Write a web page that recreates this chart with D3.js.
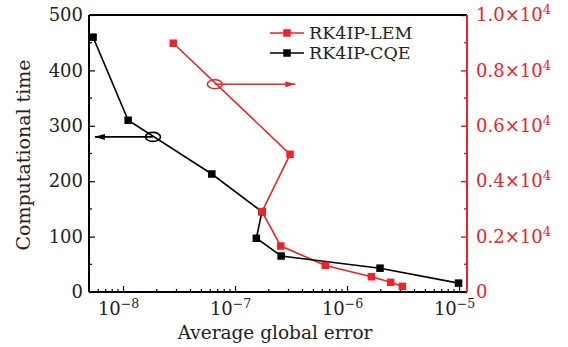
<!DOCTYPE html>
<html>
<head>
<meta charset="utf-8">
<script src="https://cdn.jsdelivr.net/npm/d3@7"></script>
<style>
  body { margin: 0; background: #fff; }
  svg text { font-family: "DejaVu Serif", "Liberation Serif", serif; }
</style>
</head>
<body>
<div id="chart"></div>
<script>
// data
const cqeError = [5.4e-9, 1.11e-8, 6.2e-8, 1.74e-7, 1.55e-7, 2.58e-7, 1.97e-6, 9.9e-6];
const cqeTime = [460, 310, 213, 145, 97, 65, 43, 16];
const lemError = [2.81e-8, 3.1e-7, 1.74e-7, 2.56e-7, 6.4e-7, 1.65e-6, 2.45e-6, 3.12e-6];
const lemTime = [8980, 4970, 2900, 1660, 960, 550, 350, 200];

const xTicks = [1e-8, 1e-7, 1e-6, 1e-5];
const xTickExp = ["−8", "−7", "−6", "−5"];
const leftTicks = [0, 100, 200, 300, 400, 500];
const rightTicks = [0, 2000, 4000, 6000, 8000, 10000];
const rightTickLabels = ["0", "0.2", "0.4", "0.6", "0.8", "1.0"];
const seriesNames = ["RK4IP-LEM", "RK4IP-CQE"];

const red = "#ee2229";

const W = 568, H = 347;
const margin = {top: 15, right: 101, bottom: 55, left: 89};
const width = W - margin.left - margin.right;
const height = H - margin.top - margin.bottom;

const svg = d3.select("#chart").append("svg")
    .attr("width", W)
    .attr("height", H);

const g = svg.append("g")
    .attr("transform", `translate(${margin.left},${margin.top})`);

const x = d3.scaleLog().domain([Math.pow(10, -8.304), Math.pow(10, -4.929)]).range([0, width]);
const yL = d3.scaleLinear().domain([0, 500]).range([height, 0]);
const yR = d3.scaleLinear().domain([0, 10000]).range([height, 0]);

// minor ticks on the log axis
const minorX = [];
[-9, -8, -7, -6, -5].forEach(e => {
    for (let k = 2; k <= 9; k++) {
        const v = k * Math.pow(10, e);
        if (v > x.domain()[0] && v < x.domain()[1]) minorX.push(v);
    }
});

// bottom axis
const xAxisG = g.append("g").attr("transform", `translate(0,${height})`);
xAxisG.call(d3.axisBottom(x).tickValues(xTicks).tickSizeInner(-6).tickSizeOuter(0).tickPadding(8))
xAxisG.select(".domain").remove();
xAxisG.selectAll("line").attr("stroke", "#000").attr("stroke-width", 1.2);
xAxisG.selectAll("text")
    .attr("fill", "#222")
    .attr("x", -5)
    .style("font-size", "18px")
    .each(function(d, i) {
        const t = d3.select(this);
        t.text(null);
        t.append("tspan").text("10");
        t.append("tspan").attr("dy", "-0.55em").style("font-size", "12.5px").text(xTickExp[i]);
    })
    .attr("dy", "0.85em");
xAxisG.selectAll(".minor").data(minorX).enter().append("line")
    .attr("x1", d => x(d)).attr("x2", d => x(d))
    .attr("y1", 0).attr("y2", -3)
    .attr("stroke", "#000").attr("stroke-width", 1.2);

// left axis
const yLG = g.append("g");
yLG.call(d3.axisLeft(yL).tickValues(leftTicks).tickSizeInner(-6).tickSizeOuter(0).tickPadding(6));
yLG.select(".domain").remove();
yLG.selectAll("line").attr("stroke", "#000").attr("stroke-width", 1.2);
yLG.selectAll("text").attr("fill", "#222").style("font-size", "18px");
yLG.selectAll(".minor").data(d3.range(50, 500, 100)).enter().append("line")
    .attr("x1", 0).attr("x2", 3)
    .attr("y1", d => yL(d)).attr("y2", d => yL(d))
    .attr("stroke", "#000").attr("stroke-width", 1.2);

// right axis
const yRG = g.append("g").attr("transform", `translate(${width},0)`);
yRG.call(d3.axisRight(yR).tickValues(rightTicks).tickSizeInner(-6).tickSizeOuter(0).tickPadding(9));
yRG.select(".domain").remove();
yRG.selectAll("line").attr("stroke", red).attr("stroke-width", 1.5);
yRG.selectAll("text")
    .attr("fill", red)
    .style("font-size", "18px")
    .each(function(d, i) {
        const t = d3.select(this);
        t.text(null);
        if (d === 0) { t.text("0"); return; }
        t.append("tspan").text(rightTickLabels[i] + "×10");
        t.append("tspan").attr("dy", "-0.55em").style("font-size", "13px").text("4");
    });
yRG.selectAll(".minor").data(d3.range(1000, 10000, 2000)).enter().append("line")
    .attr("x1", 0).attr("x2", -3)
    .attr("y1", d => yR(d)).attr("y2", d => yR(d))
    .attr("stroke", red).attr("stroke-width", 1.5);

// frame
g.append("line").attr("x1", 0).attr("x2", width).attr("y1", 0).attr("y2", 0)
    .attr("stroke", "#000").attr("stroke-width", 2);
g.append("line").attr("x1", 0).attr("x2", 0).attr("y1", 0).attr("y2", height)
    .attr("stroke", "#000").attr("stroke-width", 2);
g.append("line").attr("x1", 0).attr("x2", width).attr("y1", height).attr("y2", height)
    .attr("stroke", "#000").attr("stroke-width", 2);
g.append("line").attr("x1", width).attr("x2", width).attr("y1", 0).attr("y2", height)
    .attr("stroke", red).attr("stroke-width", 2);

// series
const cqe = cqeError.map((e, i) => ({e, v: cqeTime[i]}));
const lem = lemError.map((e, i) => ({e, v: lemTime[i]}));

const lineL = d3.line().x(d => x(d.e)).y(d => yL(d.v));
const lineR = d3.line().x(d => x(d.e)).y(d => yR(d.v));

g.append("path").datum(lem).attr("d", lineR)
    .attr("fill", "none").attr("stroke", red).attr("stroke-width", 1.6);
g.append("path").datum(cqe).attr("d", lineL)
    .attr("fill", "none").attr("stroke", "#000").attr("stroke-width", 1.6);

const ms = 7.5;
g.selectAll(".cqe-pt").data(cqe).enter().append("rect")
    .attr("class", "cqe-pt")
    .attr("x", d => x(d.e) - ms / 2).attr("y", d => yL(d.v) - ms / 2)
    .attr("width", ms).attr("height", ms).attr("fill", "#000");
g.selectAll(".lem-pt").data(lem).enter().append("rect")
    .attr("class", "lem-pt")
    .attr("x", d => x(d.e) - ms / 2).attr("y", d => yR(d.v) - ms / 2)
    .attr("width", ms).attr("height", ms).attr("fill", red);

// annotation ellipses + arrows
const defs = svg.append("defs");
[["arrBlack", "#000"], ["arrRed", red]].forEach(([id, c]) => {
    defs.append("marker").attr("id", id)
        .attr("viewBox", "0 0 10 6").attr("refX", 10).attr("refY", 3)
        .attr("markerWidth", 10).attr("markerHeight", 6)
        .attr("markerUnits", "userSpaceOnUse").attr("orient", "auto")
        .append("path").attr("d", "M0,0L10,3L0,6Z").attr("fill", c);
});

const blackNote = {e: 1.85e-8, v: 280, to: 5.6e-9};
const redNote = {e: 6.6e-8, v: 7500, to: 3.45e-7};

g.append("line")
    .attr("x1", x(blackNote.e)).attr("x2", x(blackNote.to))
    .attr("y1", yL(blackNote.v)).attr("y2", yL(blackNote.v))
    .attr("stroke", "#000").attr("stroke-width", 1.6).attr("marker-end", "url(#arrBlack)");
g.append("ellipse")
    .attr("cx", x(blackNote.e)).attr("cy", yL(blackNote.v))
    .attr("rx", 7.5).attr("ry", 4.5)
    .attr("fill", "none").attr("stroke", "#000").attr("stroke-width", 1.6);

g.append("line")
    .attr("x1", x(redNote.e)).attr("x2", x(redNote.to))
    .attr("y1", yR(redNote.v)).attr("y2", yR(redNote.v))
    .attr("stroke", red).attr("stroke-width", 1.6).attr("marker-end", "url(#arrRed)");
g.append("ellipse")
    .attr("cx", x(redNote.e)).attr("cy", yR(redNote.v))
    .attr("rx", 7.5).attr("ry", 4.5)
    .attr("fill", "none").attr("stroke", red).attr("stroke-width", 1.6);

// legend
const legend = svg.append("g").attr("transform", "translate(270,33)");
[red, "#000"].forEach((c, i) => {
    const row = legend.append("g").attr("transform", `translate(0,${i * 20})`);
    row.append("line").attr("x1", 0).attr("x2", 34).attr("y1", 0).attr("y2", 0)
        .attr("stroke", c).attr("stroke-width", 1.6);
    row.append("rect").attr("x", 17 - ms / 2).attr("y", -ms / 2)
        .attr("width", ms).attr("height", ms).attr("fill", c);
    row.append("text").attr("x", 39).attr("y", 0).attr("dy", "0.35em")
        .attr("fill", "#222").style("font-size", "17.5px")
        .text(seriesNames[i]);
});

// axis titles
svg.append("text")
    .attr("transform", `translate(30,155) rotate(-90)`)
    .attr("text-anchor", "middle").attr("fill", "#222").style("font-size", "19px")
    .text("Computational time");
svg.append("text")
    .attr("x", 275).attr("y", 339)
    .attr("text-anchor", "middle").attr("fill", "#222").style("font-size", "18.5px")
    .text("Average global error");
</script>
</body>
</html>
